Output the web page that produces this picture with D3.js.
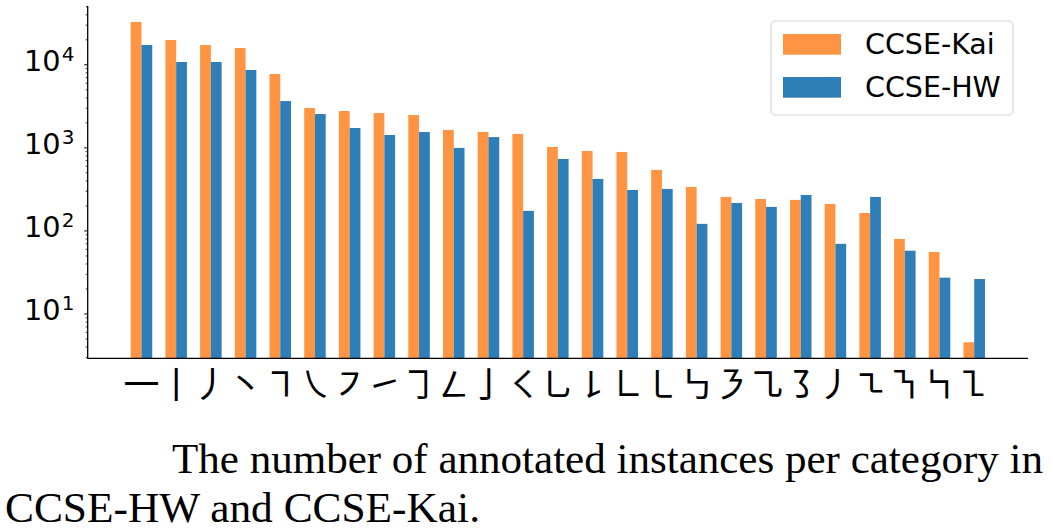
<!DOCTYPE html>
<html><head><meta charset="utf-8">
<script src="https://cdn.jsdelivr.net/npm/d3@7"></script>
<style>
html,body{margin:0;padding:0;background:#fff;}
svg{display:block;}
</style></head>
<body>
<svg id="chart" width="1053" height="530"></svg>
<script>
const categories = ["一","丨","丿","丶","㇕","㇏","㇇","㇀","㇆","㇜","亅","㇛","㇟","㇙","㇗","㇄","㇉","㇋","㇈","㇌","㇓","㇍","㇎","㇞","㇅"];
const kaiValues = [32300,19600,17100,15700,7640,2980,2740,2590,2450,1620,1530,1450,1010,905,880,535,334,253,239,233,208,162,79,55,4.5];
const hwValues  = [17100,10660,10660,8540,3610,2520,1710,1410,1530,985,1330,172,725,417,307,316,120,214,192,267,69,253,57,27,26];
const seriesNames = ["CCSE-Kai","CCSE-HW"];
const majorTicks = [10,100,1000,10000];
const captionLines = ["The number of annotated instances per category in","CCSE-HW and CCSE-Kai."];

const colors = ["#FF9443","#2E7EB8"];
const svg = d3.select("#chart");
const L = 87.7, R = 1028, T = 6, B = 358.3;
const barW = 0.31;

const x = d3.scaleLinear().domain([-1.55, categories.length - 1 + 1.55]).range([L, R]);
const allVals = kaiValues.concat(hwValues);
const lmin = Math.log10(d3.min(allVals)), lmax = Math.log10(d3.max(allVals));
const m = (lmax - lmin) * 0.05;
const y = d3.scaleLog().domain([Math.pow(10, lmin - m), Math.pow(10, lmax + m)]).range([B, T]);

// bars
const series = [kaiValues, hwValues];
series.forEach((vals, s) => {
  svg.append("g").selectAll("rect").data(vals).join("rect")
    .attr("x", (d, i) => x(i + (s === 0 ? -barW : 0)))
    .attr("width", x(barW) - x(0))
    .attr("y", d => y(d))
    .attr("height", d => B - y(d))
    .attr("fill", colors[s]);
});

// minor ticks
const [d0, d1] = y.domain();
const minor = [];
for (let k = Math.floor(Math.log10(d0)); k <= Math.ceil(Math.log10(d1)); k++) {
  for (let j = 2; j <= 9; j++) { const v = j * Math.pow(10, k); if (v >= d0 && v <= d1) minor.push(v); }
}
const minorAxis = svg.append("g").attr("transform", `translate(${L},0)`)
  .call(d3.axisLeft(y).tickValues(minor).tickSize(2).tickFormat(""));
minorAxis.select(".domain").remove();
minorAxis.selectAll("line").attr("stroke", "#000").attr("stroke-width", 0.8);

const majorAxis = svg.append("g").attr("transform", `translate(${L},0)`)
  .call(d3.axisLeft(y).tickValues(majorTicks).tickSize(3.5).tickFormat(""));
majorAxis.select(".domain").remove();
majorAxis.selectAll("line").attr("stroke", "#000").attr("stroke-width", 1);

// major labels as 10^k
const lab = svg.append("g").attr("font-family", "DejaVu Sans").attr("fill", "#000");
majorTicks.forEach(v => {
  const yy = y(v);
  const t = lab.append("text").attr("x", 24).attr("y", yy + 6.8).attr("font-size", 28.8);
  t.append("tspan").text("10");
  t.append("tspan").attr("font-size", 20).attr("dy", -10.5).attr("dx", 1).text(String(Math.round(Math.log10(v))));
});

// spines
svg.append("line").attr("x1", L).attr("x2", L).attr("y1", T).attr("y2", B).attr("stroke", "#000").attr("stroke-width", 1.3);
svg.append("line").attr("x1", L - 0.6).attr("x2", R).attr("y1", B).attr("y2", B).attr("stroke", "#000").attr("stroke-width", 1.3);

// x labels
svg.append("g").selectAll("text").data(categories).join("text")
  .attr("x", (d, i) => x(i))
  .attr("y", 382)
  .attr("text-anchor", "middle")
  .attr("dominant-baseline", "central")
  .attr("font-family", "'Noto Sans CJK SC'")
  .attr("font-size", 36)
  .text(d => d);

// legend
const lg = svg.append("g");
lg.append("rect").attr("x", 771).attr("y", 21).attr("width", 242).attr("height", 94)
  .attr("rx", 4).attr("fill", "#fff").attr("stroke", "#d6d6d6").attr("stroke-width", 1.2);
seriesNames.forEach((n, i) => {
  lg.append("rect").attr("x", 783).attr("y", 34 + i * 43).attr("width", 58).attr("height", 20.7).attr("fill", colors[i]);
  lg.append("text").attr("x", 865).attr("y", 54 + i * 43).attr("font-family", "DejaVu Sans").attr("font-size", 28.5).text(n);
});

// caption
svg.append("text").attr("x", 172).attr("y", 473).attr("font-family", "'Liberation Serif'").attr("font-size", 42.5)
  .attr("textLength", 871).attr("lengthAdjust", "spacingAndGlyphs").text(captionLines[0]);
svg.append("text").attr("x", 5).attr("y", 521.5).attr("font-family", "'Liberation Serif'").attr("font-size", 43)
  .attr("textLength", 475).attr("lengthAdjust", "spacingAndGlyphs").text(captionLines[1]);
</script>
</body></html>
